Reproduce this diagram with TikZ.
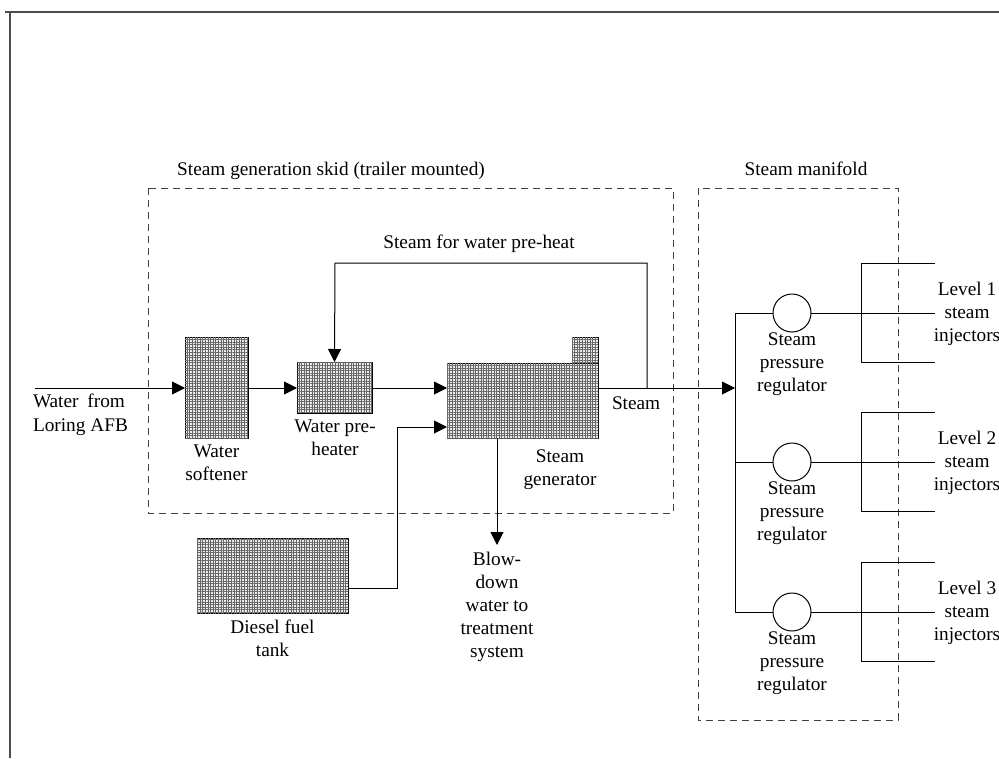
\documentclass[tikz,border=0pt]{standalone}
\usepackage{fontspec}
\setmainfont{Liberation Serif}
\usetikzlibrary{arrows.meta,patterns.meta}
\begin{document}
\begin{tikzpicture}[x=1pt,y=-1pt,
  every node/.style={inner sep=0pt,outer sep=0pt,font=\fontsize{19.3}{23}\selectfont},
  txt/.style={align=center,anchor=base},
  unit/.style={draw=black,line width=1pt,fill=gray!15,
    postaction={pattern={Lines[angle=0,distance=2.6pt,line width=0.8pt]},pattern color=black!60},
    postaction={pattern={Lines[angle=90,distance=2.6pt,line width=0.8pt]},pattern color=black!60}},
  pipe/.style={line width=1pt,black},
  flow/.style={pipe,-{Triangle[length=13pt,width=13pt]}},
  skid/.style={line width=1pt,black!75,dash pattern=on 7pt off 5pt},
  reg/.style={circle,draw=black,line width=1pt,minimum size=38pt},
  frame/.style={line width=1.6pt,black!70}]
\useasboundingbox (0,0) rectangle (999,758);
% outer frame (only top and left visible)
\draw[frame] (5,12) -- (999,12);
\draw[frame] (10,12) -- (10,758);
% dashed enclosures
\draw[skid] (148,188) rectangle (673,513);
\draw[skid] (698,188) rectangle (898,720);
\node[txt] (skidlbl) at (331,175) {Steam generation skid (trailer mounted)};
\node[txt] (manlbl) at (806,175) {Steam manifold};
% equipment
\node[unit,minimum width=63pt,minimum height=101pt] (soft) at (216.5,387.5) {};
\node[unit,minimum width=75pt,minimum height=51pt] (pre) at (334.5,387.5) {};
\node[unit,minimum width=26pt,minimum height=26pt] (stack) at (585,350) {};
\node[unit,minimum width=151pt,minimum height=75pt] (gen) at (522.5,400.5) {};
\node[unit,minimum width=151pt,minimum height=75pt] (tank) at (272.5,575.5) {};
% labels (base = baseline of last line)
\node[anchor=base west] (win) at (33,407) {\hbox to 92pt{Water\hfil from}};
\node[anchor=base west] (win2) at (33,431) {Loring AFB};
\node[txt] (softlbl) at (216.5,480) {Water\\softener};
\node[txt] (prelbl) at (335,455) {Water pre-\\heater};
\node[txt] (genlbl) at (560,485) {Steam\\generator};
\node[anchor=base west] (steamlbl) at (612,409) {Steam};
\node[txt] (preheatlbl) at (479,248) {Steam for water pre-heat};
\node[txt] (tanklbl) at (272.5,656) {Diesel fuel\\tank};
\node[txt] (blowlbl) at (497,657) {Blow-\\down\\water to\\treatment\\system};
% coordinates
\coordinate (wstart) at (35,388);
\coordinate (sj) at (647,388);
\coordinate (mhead) at (735,388);
\coordinate (mtop) at (735,313);
\coordinate (mbot) at (735,612);
\coordinate (loopR) at (647,263);
\coordinate (loopL) at (335,263);
\coordinate (fuel1) at (397,588);
\coordinate (fuel2) at (397,427);
\coordinate (blowend) at (497,545);
% main flow
\draw[flow] (wstart) -- (wstart -| soft.west);
\draw[flow] (soft.east |- wstart) -- (pre.west |- wstart);
\draw[flow] (pre.east |- wstart) -- (gen.west |- wstart);
\draw[flow] (gen.east |- wstart) -- (mhead);
\draw[flow] (sj) -- (loopR) -- (loopL) -- (pre.north);
\draw[flow] (tank.east |- fuel1) -- (fuel1) -- (fuel2) -- (gen.west |- fuel2);
\draw[flow] (gen.south -| blowend) -- (blowend);
% manifold
\draw[pipe] (mtop) -- (mbot);
\foreach \i/\y in {1/313,2/462,3/612}{
  \node[reg] (r\i) at (792,\y) {};
  \node[txt] (rl\i) at (792,\y+78) {Steam\\pressure\\regulator};
  \draw[pipe] (735,\y) -- (r\i.west);
  \coordinate (e\i) at (935,\y);
  \draw[pipe] (r\i.east) -- (e\i);
  \draw[pipe] (935,\y-50) -- (861,\y-50) -- (861,\y+49) -- (935,\y+49);
  \node[txt] (lv\i) at (967,\y+28) {Level \i\\steam\\injectors};
}
\end{tikzpicture}
\end{document}
